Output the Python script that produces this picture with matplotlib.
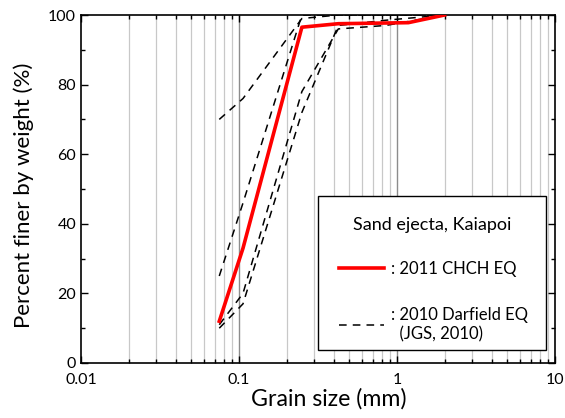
import numpy as np
import matplotlib
matplotlib.use("Agg")
import matplotlib.pyplot as plt
from matplotlib.patches import Rectangle
from matplotlib.ticker import LogLocator, NullFormatter, FixedLocator, FuncFormatter

plt.rcParams['font.family'] = ['Lato', 'DejaVu Sans']

# sieve sizes (mm)
sizes = [0.075, 0.106, 0.25, 0.425, 0.85, 2.0]

# 2011 CHCH EQ
chch_sizes = [0.075, 0.106, 0.25, 0.425, 0.85, 1.18, 2.0]
chch_pass = [12, 33, 96.5, 97.5, 97.7, 97.8, 100]

# 2010 Darfield EQ (JGS, 2010)
darfield_a = [70, 76, 99, 100, 100, 100]
darfield_b = [25, 46, 100, 100, 100, 100]
darfield_c = [11, 20, 78, 96, 97, 100]
darfield_d = [10, 17, 72, 97, 98.5, 100]

fig = plt.figure(figsize=(5.65, 4.18), dpi=100)
ax = fig.add_axes([0.1434, 0.1316, 0.8389, 0.8325])

ax.set_xscale('log')
ax.set_xlim(0.01, 10)
ax.set_ylim(0, 100)

# vertical grid lines
for d in [0.01, 0.1, 1]:
    for k in range(2, 10):
        ax.axvline(d * k, color='#c8c8c8', lw=0.9, zorder=0)
for d in [0.1, 1]:
    ax.axvline(d, color='#8c8c8c', lw=1.0, zorder=0)

dash = dict(color='black', lw=1.1, ls=(0, (5, 4)))
ax.plot(sizes, darfield_a, **dash, label=': 2010 Darfield EQ\n  (JGS, 2010)')
ax.plot(sizes, darfield_b, **dash)
ax.plot(sizes, darfield_c, **dash)
ax.plot(sizes, darfield_d, **dash)
ax.plot(chch_sizes, chch_pass, color='red', lw=2.6, label=': 2011 CHCH EQ', zorder=5)

ax.xaxis.set_major_locator(FixedLocator([0.01, 0.1, 1, 10]))
ax.xaxis.set_major_formatter(FuncFormatter(lambda v, p: f"{v:g}"))
ax.xaxis.set_minor_locator(LogLocator(base=10, subs=np.arange(2, 10)))
ax.xaxis.set_minor_formatter(NullFormatter())
ax.set_yticks([0, 20, 40, 60, 80, 100])
ax.set_yticks(np.arange(10, 100, 20), minor=True)
ax.tick_params(which='both', direction='in', top=True, right=True, labelsize=11.5, width=1)
ax.tick_params(which='major', length=5)
ax.tick_params(which='minor', length=3)
ax.tick_params(axis='x', pad=7)
for s in ax.spines.values():
    s.set_linewidth(1.2)

ax.set_xlabel('Grain size (mm)', fontsize=16.7)
ax.set_ylabel('Percent finer by weight (%)', fontsize=16)
ax.xaxis.set_label_coords(0.523, -0.073)
ax.yaxis.set_label_coords(-0.1, 0.483)

# legend frame
box = (0.5, 0.0374, 0.481, 0.4425)
ax.add_patch(Rectangle(box[:2], box[2], box[3], transform=ax.transAxes,
                       facecolor='white', edgecolor='black', lw=1.0, zorder=6))

h, l = ax.get_legend_handles_labels()
leg = ax.legend([h[1], h[0]], [l[1], l[0]], title='Sand ejecta, Kaiapoi',
                loc='upper left', bbox_to_anchor=box,
                mode='expand', fontsize=12, title_fontsize=13, frameon=False,
                handlelength=2.7, handletextpad=0.42, borderpad=1.25,
                labelspacing=1.85, borderaxespad=0)
leg.set_zorder(7)
leg._legend_box.sep = 20

fig.savefig('out.png', dpi=100)
